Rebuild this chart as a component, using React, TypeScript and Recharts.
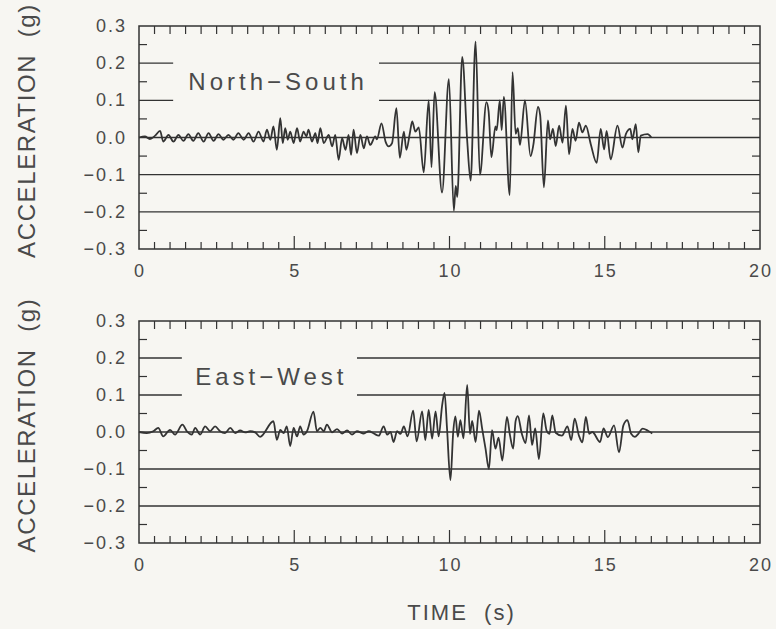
import React from 'react';
import { ComposedChart, Line, XAxis, YAxis, ReferenceLine, ReferenceArea } from 'recharts';

// ---------- axis ticks ----------
const xMajorTicks = [0, 5, 10, 15, 20];
const xTicks = [
  0, 0.5, 1, 1.5, 2, 2.5, 3, 3.5, 4, 4.5, 5, 5.5, 6, 6.5, 7, 7.5, 8, 8.5, 9, 9.5, 10,
  10.5, 11, 11.5, 12, 12.5, 13, 13.5, 14, 14.5, 15, 15.5, 16, 16.5, 17, 17.5, 18, 18.5, 19, 19.5, 20,
];
const yLabelTicks = [-0.3, -0.2, -0.1, 0, 0.1, 0.2, 0.3];
const yMinorTicks = [-0.25, -0.15, -0.05, 0.05, 0.15, 0.25];
const fullGridLevels = [0, -0.1, -0.2];
const brokenGridLevels = [0.1, 0.2];

// ---------- North-South record ----------
const nsTime = [
  0, 0.19, 0.35, 0.52, 0.68, 0.78, 0.95, 1.11, 1.27, 1.43, 1.59, 1.75, 1.91, 2.08, 2.24, 2.4, 2.56, 2.72,
  2.88, 3.04, 3.2, 3.37, 3.53, 3.69, 3.85, 4.01, 4.12, 4.23, 4.33, 4.44, 4.55, 4.63, 4.71, 4.79, 4.87,
  4.98, 5.09, 5.19, 5.3, 5.39, 5.46, 5.57, 5.68, 5.75, 5.84, 5.95, 6.11, 6.22, 6.32, 6.43, 6.54, 6.65,
  6.75, 6.83, 6.91, 7.02, 7.13, 7.24, 7.34, 7.45, 7.61, 7.66, 7.81, 7.94, 8.04, 8.15, 8.29, 8.4, 8.53,
  8.61, 8.72, 8.8, 8.9, 9.01, 9.17, 9.33, 9.42, 9.52, 9.76, 9.98, 10.14, 10.2, 10.25, 10.41, 10.57,
  10.68, 10.84, 10.98, 11.19, 11.26, 11.35, 11.48, 11.52, 11.62, 11.68, 11.75, 11.94, 12.03, 12.13,
  12.2, 12.27, 12.43, 12.61, 12.7, 12.85, 12.92, 13.04, 13.17, 13.24, 13.33, 13.42, 13.53, 13.64,
  13.75, 13.85, 13.96, 14.06, 14.17, 14.28, 14.39, 14.55, 14.74, 14.87, 14.98, 15.06, 15.19, 15.41,
  15.57, 15.68, 15.82, 15.89, 16.0, 16.08, 16.16, 16.38, 16.5,
];
const nsAccel = [
  0, 0.003, -0.004, 0.005, 0.018, -0.011, 0.007, -0.011, 0.007, -0.009, 0.009, -0.009, 0.012, -0.011,
  0.012, -0.009, 0.009, -0.006, 0.007, -0.006, 0.012, -0.006, 0.012, -0.011, 0.016, -0.011, 0.021,
  -0.006, 0.03, -0.033, 0.052, -0.015, 0.025, -0.006, 0.016, -0.015, 0.025, -0.011, 0.016, 0.003,
  0.021, -0.011, 0.012, -0.015, 0.025, -0.015, 0.007, -0.024, 0.007, -0.06, -0.002, -0.033, 0.007,
  -0.047, 0.021, -0.042, 0.007, -0.029, 0.003, -0.02, 0.003, -0.005, 0.038, -0.011, -0.024, -0.015,
  0.079, -0.055, 0.016, -0.033, 0.01, 0.043, 0.016, 0.027, -0.094, 0.1, -0.08, 0.122, -0.148, 0.157,
  -0.197, -0.13, -0.16, 0.217, -0.008, -0.116, 0.258, -0.1, 0.095, 0.07, -0.053, 0.03, 0.02, 0.1,
  0.02, 0.109, -0.155, 0.176, 0.01, 0.025, -0.02, 0.1, -0.05, -0.02, 0.082, 0.06, -0.134, 0.046,
  -0.005, 0.023, -0.023, 0.032, -0.014, 0.086, -0.045, 0.023, -0.009, 0.04, 0.014, 0.032, -0.018,
  -0.068, 0.023, -0.032, 0.018, -0.059, 0.032, -0.027, 0.009, 0.023, -0.005, 0.036, -0.04, 0.005,
  0.009, 0.0,
];

// ---------- East-West record ----------
const ewTime = [
  0, 0.25, 0.46, 0.62, 0.78, 1.0, 1.16, 1.4, 1.54, 1.7, 1.81, 1.97, 2.13, 2.29, 2.45, 2.61, 2.77, 2.94,
  3.1, 3.26, 3.42, 3.58, 3.74, 3.9, 4.33, 4.44, 4.55, 4.66, 4.76, 4.87, 4.98, 5.09, 5.19, 5.3, 5.41,
  5.62, 5.73, 5.84, 5.95, 6.05, 6.22, 6.38, 6.54, 6.7, 6.86, 7.02, 7.24, 7.4, 7.56, 7.72, 7.88, 7.99,
  8.1, 8.2, 8.31, 8.42, 8.53, 8.65, 8.83, 8.94, 9.12, 9.22, 9.33, 9.44, 9.55, 9.65, 9.76, 9.84, 9.92,
  10.03, 10.12, 10.19, 10.27, 10.35, 10.45, 10.57, 10.66, 10.73, 10.84, 10.95, 11.05, 11.16, 11.27,
  11.37, 11.48, 11.58, 11.7, 11.85, 11.95, 12.05, 12.13, 12.2, 12.33, 12.45, 12.56, 12.66, 12.76,
  12.88, 13.02, 13.13, 13.22, 13.31, 13.42, 13.62, 13.8, 13.92, 14.03, 14.17, 14.28, 14.39, 14.5,
  14.6, 14.85, 14.96, 15.1, 15.3, 15.46, 15.6, 15.73, 15.85, 15.97, 16.08, 16.22, 16.38, 16.53,
];
const ewAccel = [
  0, -0.003, 0.002, 0.011, -0.012, 0.006, -0.007, 0.02, 0.002, -0.007, 0.011, -0.007, 0.015, 0.002,
  0.015, 0.002, -0.003, 0.011, -0.003, 0.004, -0.001, 0.002, -0.001, -0.013, 0.029, -0.021, 0.006,
  -0.003, 0.015, -0.038, 0.011, -0.012, 0.015, -0.007, 0.002, 0.055, 0.002, 0.011, 0.002, 0.02,
  -0.001, 0.008, -0.004, 0.004, -0.007, 0.002, -0.004, 0.002, -0.004, -0.01, 0.015, -0.007, 0.0,
  -0.027, 0.002, -0.005, 0.015, -0.012, 0.058, -0.025, 0.056, -0.022, 0.06, -0.018, 0.056, -0.012,
  0.07, 0.106, 0.01, -0.13, 0.0, 0.042, -0.013, 0.032, -0.017, 0.127, -0.005, 0.03, -0.027, 0.058,
  0.01, -0.045, -0.1, 0.005, -0.045, -0.015, -0.077, 0.041, -0.01, -0.045, 0.03, 0.043, -0.005,
  -0.03, 0.045, -0.035, 0.01, -0.073, 0.05, 0.003, -0.005, 0.045, -0.002, -0.01, 0.015, -0.022,
  0.036, -0.01, -0.028, 0.041, -0.005, 0.0, -0.027, 0.01, -0.014, 0.018, -0.055, 0.018, 0.032,
  -0.005, -0.013, -0.005, 0.009, 0.004, -0.004,
];

const nsLabel = 'North\u2212South';
const ewLabel = 'East\u2212West';
const yTitle = 'ACCELERATION  (g)';
const xTitle = 'TIME  (s)';

// ---------- styling ----------
const INK = '#333333';
const TEXT = '#4a4a4a';
const FONT = '"Liberation Sans", Arial, sans-serif';
const W = 776;
const MARGIN_TOP = 26;
const MARGIN_RIGHT = 16;
const Y_AXIS_W = 139;
const X_DOMAIN: [number, number] = [0, 20];
const Y_DOMAIN: [number, number] = [-0.3, 0.3];
const EDGE_TICK_PX = 8;

const fmtY = (v: number) => (v === 0 ? '0.0' : (v < 0 ? '\u2212' : '') + Math.abs(v).toFixed(1));

function BottomTick(props: any) {
  const x = Number(props.x);
  const y = Number(props.y);
  const v = props.payload.value;
  const major = xMajorTicks.includes(v);
  const len = major ? 13 : 7;
  const inner = v > X_DOMAIN[0] && v < X_DOMAIN[1];
  return (
    <g>
      {inner && <line x1={x} y1={y} x2={x} y2={y - len} stroke={INK} strokeWidth={1.2} />}
      {major && (
        <text x={x + 1} y={y + 22} textAnchor="middle" dominantBaseline="central" fill={TEXT}
          fontSize={18} fontFamily={FONT} letterSpacing={2}>
          {v}
        </text>
      )}
    </g>
  );
}

function LeftTick(props: any) {
  const x = Number(props.x);
  const y = Number(props.y);
  const v = props.payload.value;
  if (yLabelTicks.includes(v)) {
    return (
      <text x={x - 12} y={y} textAnchor="end" dominantBaseline="central" fill={TEXT}
        fontSize={18} fontFamily={FONT} letterSpacing={2}>
        {fmtY(v)}
      </text>
    );
  }
  return <line x1={x} y1={y} x2={x + EDGE_TICK_PX} y2={y} stroke={INK} strokeWidth={1.2} />;
}

function YTitle(props: any) {
  const vb = props.viewBox || { x: 0, y: 0, width: 0, height: 0 };
  const cx = 26;
  const cy = vb.y + vb.height / 2 - 7;
  return (
    <text x={cx} y={cy} transform={`rotate(-90, ${cx}, ${cy})`} textAnchor="middle" dominantBaseline="central"
      fill={TEXT} fontSize={24} fontFamily={FONT} letterSpacing={1.6} style={{ whiteSpace: 'pre' }}>
      {yTitle}
    </text>
  );
}

function XTitle(props: any) {
  const vb = props.viewBox || { x: 0, y: 0, width: 0, height: 0 };
  const cx = vb.x + vb.width / 2 + 12;
  return (
    <text x={cx} y={vb.y + 69} textAnchor="middle" dominantBaseline="central" fill={TEXT}
      fontSize={22} fontFamily={FONT} letterSpacing={2} style={{ whiteSpace: 'pre' }}>
      {xTitle}
    </text>
  );
}

function AreaLabel(props: any) {
  const vb = props.viewBox || { x: 0, y: 0, width: 0, height: 0 };
  return (
    <text x={vb.x + vb.width / 2 + 2} y={vb.y + vb.height / 2} textAnchor="middle" dominantBaseline="central"
      fill={TEXT} fontSize={24} fontFamily={FONT} letterSpacing={4}>
      {props.text}
    </text>
  );
}

// inward tick marks on the top and right frame edges (axis decoration, same layout constants)
function FrameTicks({ height, bottomHeight }: { height: number; bottomHeight: number }) {
  const plotW = W - Y_AXIS_W - MARGIN_RIGHT;
  const plotH = height - MARGIN_TOP - bottomHeight;
  const sx = (v: number) => Y_AXIS_W + ((v - X_DOMAIN[0]) / (X_DOMAIN[1] - X_DOMAIN[0])) * plotW;
  const sy = (v: number) => MARGIN_TOP + ((Y_DOMAIN[1] - v) / (Y_DOMAIN[1] - Y_DOMAIN[0])) * plotH;
  const xr = sx(X_DOMAIN[1]);
  const yt = sy(Y_DOMAIN[1]);
  return (
    <svg width={W} height={height} style={{ position: 'absolute', left: 0, top: 0, pointerEvents: 'none', zIndex: 2 }}>
      {xTicks.filter((v) => v > X_DOMAIN[0] && v < X_DOMAIN[1]).map((v) => (
        <line key={`t${v}`} x1={sx(v)} y1={yt} x2={sx(v)} y2={yt + EDGE_TICK_PX} stroke={INK} strokeWidth={1.2} />
      ))}
      {yMinorTicks.map((v) => (
        <line key={`r${v}`} x1={xr} y1={sy(v)} x2={xr - EDGE_TICK_PX} y2={sy(v)} stroke={INK} strokeWidth={1.2} />
      ))}
    </svg>
  );
}

type PanelProps = {
  time: number[];
  accel: number[];
  label: string;
  gap: [number, number];
  height: number;
  bottomHeight: number;
  showXTitle: boolean;
};

function Panel({ time, accel, label, gap, height, bottomHeight, showXTitle }: PanelProps) {
  const data = time.map((t, i) => ({ t, a: accel[i] }));
  return (
    <div style={{ position: 'relative', width: W, height }}>
      <ComposedChart width={W} height={height} data={data}
        margin={{ top: MARGIN_TOP, right: MARGIN_RIGHT, bottom: 0, left: 0 }}>
        <XAxis xAxisId="b" dataKey="t" type="number" domain={X_DOMAIN} ticks={xTicks} interval={0}
          tickSize={0} tickMargin={0} tickLine={false} axisLine={false} tick={<BottomTick />}
          height={bottomHeight} label={showXTitle ? <XTitle /> : undefined} />
        <YAxis yAxisId="l" type="number" domain={Y_DOMAIN} ticks={[...yLabelTicks, ...yMinorTicks]}
          interval={0} width={Y_AXIS_W} tickSize={0} tickMargin={0} tickLine={false} axisLine={false}
          tick={<LeftTick />} label={<YTitle />} />
        <ReferenceArea xAxisId="b" yAxisId="l" x1={X_DOMAIN[0]} x2={X_DOMAIN[1]} y1={Y_DOMAIN[0]} y2={Y_DOMAIN[1]}
          fill="none" fillOpacity={0} stroke={INK} strokeWidth={1.5} />
        {fullGridLevels.map((v) => (
          <ReferenceLine key={`g${v}`} xAxisId="b" yAxisId="l" y={v} stroke={INK} strokeWidth={1.3} />
        ))}
        {brokenGridLevels.map((v) => (
          <ReferenceLine key={`bl${v}`} xAxisId="b" yAxisId="l" stroke={INK} strokeWidth={1.3}
            segment={[{ x: X_DOMAIN[0], y: v }, { x: gap[0], y: v }]} />
        ))}
        {brokenGridLevels.map((v) => (
          <ReferenceLine key={`br${v}`} xAxisId="b" yAxisId="l" stroke={INK} strokeWidth={1.3}
            segment={[{ x: gap[1], y: v }, { x: X_DOMAIN[1], y: v }]} />
        ))}
        <ReferenceArea xAxisId="b" yAxisId="l" x1={gap[0]} x2={gap[1]} y1={0.1} y2={0.2} fill="none"
          fillOpacity={0} stroke="none" label={<AreaLabel text={label} />} />
        <Line xAxisId="b" yAxisId="l" dataKey="a" type="monotone" stroke={INK} strokeWidth={1.8}
          dot={false} activeDot={false} isAnimationActive={false} />
      </ComposedChart>
      <FrameTicks height={height} bottomHeight={bottomHeight} />
    </div>
  );
}

export default function App() {
  return (
    <div style={{ position: 'absolute', left: 0, top: 0, width: W, height: 629, background: '#f7f6f2',
      overflow: 'hidden', fontFamily: FONT }}>
      <div style={{ position: 'absolute', left: 0, top: 0 }}>
        <Panel time={nsTime} accel={nsAccel} label={nsLabel} gap={[1.1, 7.73]} height={295}
          bottomHeight={46} showXTitle={false} />
      </div>
      <div style={{ position: 'absolute', left: 0, top: 295 }}>
        <Panel time={ewTime} accel={ewAccel} label={ewLabel} gap={[1.38, 7.02]} height={334}
          bottomHeight={86} showXTitle={true} />
      </div>
    </div>
  );
}
